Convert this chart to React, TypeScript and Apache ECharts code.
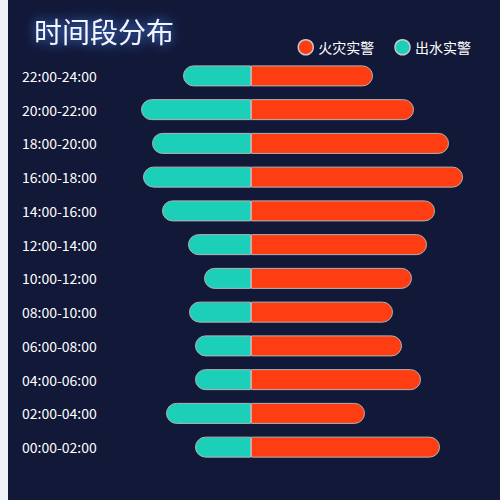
import React, { useEffect, useRef } from "react";
import * as echarts from "echarts";

const categories = [
  "00:00-02:00",
  "02:00-04:00",
  "04:00-06:00",
  "06:00-08:00",
  "08:00-10:00",
  "10:00-12:00",
  "12:00-14:00",
  "14:00-16:00",
  "16:00-18:00",
  "18:00-20:00",
  "20:00-22:00",
  "22:00-24:00",
];
const fireValues = [189, 114, 170, 151, 142, 161, 176, 184, 212, 198, 163, 122];
const waterValues = [56, 85, 56, 56, 62, 47, 63, 89, 108, 99, 110, 68];
const seriesNames = ["火灾实警", "出水实警"];

const FONT = "'Noto Sans CJK SC', 'Noto Sans', sans-serif";

export default function App() {
  const ref = useRef<HTMLDivElement>(null);
  useEffect(() => {
    document.body.style.background = "#f0f2f8";
    document.body.style.overflow = "hidden";
    const chart = echarts.init(ref.current!, null, { renderer: "svg" });
    chart.setOption({
      animation: false,
      backgroundColor: "#111838",
      title: {
        text: "时间段分布",
        left: 21,
        top: 12,
        textStyle: {
          color: "#f2f6ff",
          fontSize: 28,
          fontWeight: "normal",
          fontFamily: FONT,
          textShadowColor: "#4f8cff",
          textShadowBlur: 12,
        },
      },
      legend: {
        right: 24,
        top: 34,
        icon: "circle",
        itemWidth: 15,
        itemHeight: 15,
        itemGap: 20,
        itemStyle: { borderColor: "#c8c8c8", borderWidth: 1.5 },
        textStyle: { color: "#ffffff", fontSize: 14, fontFamily: FONT },
        data: seriesNames,
      },
      grid: { left: 13, right: 19, top: 59, bottom: 36 },
      xAxis: {
        type: "value",
        min: -230,
        max: 230,
        show: false,
      },
      yAxis: {
        type: "category",
        data: categories,
        axisLine: { show: false },
        axisTick: { show: false },
        splitLine: { show: false },
        axisLabel: {
          inside: true,
          margin: 1,
          align: "left",
          color: "#ffffff",
          fontSize: 14,
          fontFamily: FONT,
        },
      },
      series: [
        {
          name: seriesNames[0],
          type: "bar",
          barWidth: 21,
          barGap: "-100%",
          data: fireValues,
          itemStyle: {
            color: "#fe3d12",
            borderColor: "#b4b4b4",
            borderWidth: 1,
            borderRadius: [0, 11, 11, 0],
          },
        },
        {
          name: seriesNames[1],
          type: "bar",
          barWidth: 21,
          data: waterValues.map((v) => -v),
          itemStyle: {
            color: "#1ccfb9",
            borderColor: "#b4b4b4",
            borderWidth: 1,
            borderRadius: [11, 0, 0, 11],
          },
        },
      ],
    });
    return () => chart.dispose();
  }, []);
  return (
    <div
      ref={ref}
      style={{ position: "fixed", left: 8, top: 0, width: 492, height: 500 }}
    />
  );
}
